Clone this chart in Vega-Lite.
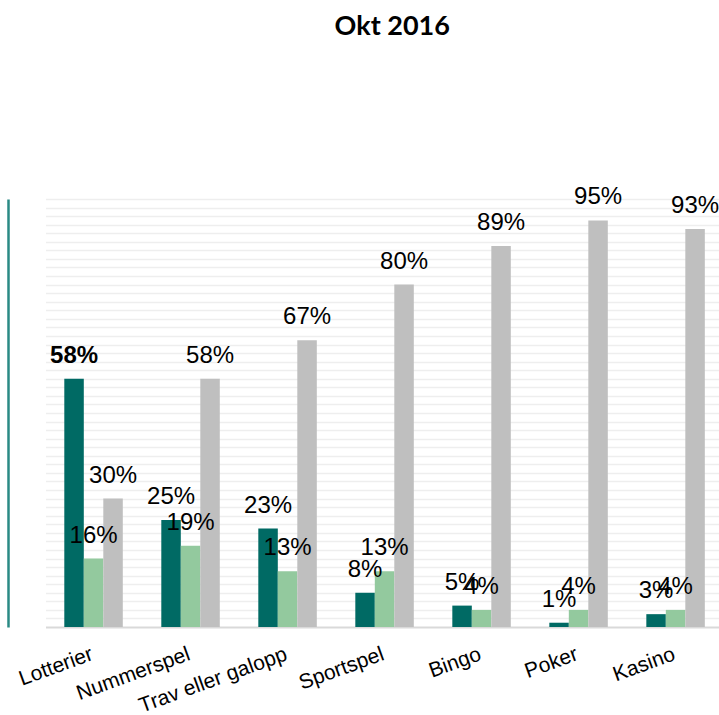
{
  "$schema": "https://vega.github.io/schema/vega-lite/v6.json",
  "autosize": "none",
  "width": 673.5,
  "height": 428,
  "padding": {"left": 45.5, "top": 199, "right": 0, "bottom": 88},
  "background": "white",
  "title": {
    "text": "Okt 2016",
    "font": "Lato",
    "fontSize": 27,
    "fontWeight": "bold",
    "color": "#000000",
    "anchor": "middle",
    "offset": 144,
    "dx": 10
  },
  "config": {
    "view": {"stroke": null},
    "axis": {"labelFont": "Liberation Sans"}
  },
  "data": {
    "values": [
      {"cat": "Lotterier", "s": "a", "v": 0.58},
      {"cat": "Lotterier", "s": "b", "v": 0.16},
      {"cat": "Lotterier", "s": "c", "v": 0.30},
      {"cat": "Nummerspel", "s": "a", "v": 0.25},
      {"cat": "Nummerspel", "s": "b", "v": 0.19},
      {"cat": "Nummerspel", "s": "c", "v": 0.58},
      {"cat": "Trav eller galopp", "s": "a", "v": 0.23},
      {"cat": "Trav eller galopp", "s": "b", "v": 0.13},
      {"cat": "Trav eller galopp", "s": "c", "v": 0.67},
      {"cat": "Sportspel", "s": "a", "v": 0.08},
      {"cat": "Sportspel", "s": "b", "v": 0.13},
      {"cat": "Sportspel", "s": "c", "v": 0.80},
      {"cat": "Bingo", "s": "a", "v": 0.05},
      {"cat": "Bingo", "s": "b", "v": 0.04},
      {"cat": "Bingo", "s": "c", "v": 0.89},
      {"cat": "Poker", "s": "a", "v": 0.01},
      {"cat": "Poker", "s": "b", "v": 0.04},
      {"cat": "Poker", "s": "c", "v": 0.95},
      {"cat": "Kasino", "s": "a", "v": 0.03},
      {"cat": "Kasino", "s": "b", "v": 0.04},
      {"cat": "Kasino", "s": "c", "v": 0.93}
    ]
  },
  "encoding": {
    "x": {
      "field": "cat",
      "type": "nominal",
      "sort": null,
      "scale": {"paddingInner": 0.397, "paddingOuter": 0.17, "align": 0.57},
      "axis": {
        "title": null,
        "labelAngle": -20,
        "labelAlign": "right",
        "labelBaseline": "top",
        "labelFontSize": 21,
        "labelColor": "#000000",
        "labelPadding": 16,
        "labelOffset": -5,
        "ticks": false,
        "domainColor": "#d9d9d9",
        "domainWidth": 2
      }
    },
    "xOffset": {"field": "s", "type": "nominal", "sort": ["a", "b", "c"], "scale": {"paddingInner": 0}},
    "y": {
      "field": "v",
      "type": "quantitative",
      "scale": {"domain": [0, 1], "nice": false},
      "axis": {
        "title": null,
        "labels": false,
        "ticks": false,
        "domain": true,
        "domainColor": "#2a8a84",
        "domainWidth": 2.5,
        "offset": 37.5,
        "grid": true,
        "gridColor": "#eeeeee",
        "gridWidth": 1.5,
        "values": [0.02,0.04,0.06,0.08,0.1,0.12,0.14,0.16,0.18,0.2,0.22,0.24,0.26,0.28,0.3,0.32,0.34,0.36,0.38,0.4,0.42,0.44,0.46,0.48,0.5,0.52,0.54,0.56,0.58,0.6,0.62,0.64,0.66,0.68,0.7,0.72,0.74,0.76,0.78,0.8,0.82,0.84,0.86,0.88,0.9,0.92,0.94,0.96,0.98,1]
      }
    },
    "text": {"field": "v", "type": "quantitative", "format": ".0%"}
  },
  "layer": [
    {
      "mark": {"type": "bar"},
      "encoding": {
        "color": {
          "field": "s",
          "type": "nominal",
          "scale": {"domain": ["a", "b", "c"], "range": ["#006a64", "#93c99e", "#bfbfbf"]},
          "legend": null
        }
      }
    },
    {
      "transform": [{"filter": "!(datum.cat === 'Lotterier' && datum.s === 'a')"}],
      "mark": {"type": "text", "font": "Liberation Sans", "fontSize": 24, "fontWeight": "normal", "baseline": "alphabetic", "align": "center", "dy": -16, "color": "#000000"}
    },
    {
      "transform": [{"filter": "datum.cat === 'Lotterier' && datum.s === 'a'"}],
      "mark": {"type": "text", "font": "Liberation Sans", "fontSize": 24, "fontWeight": "bold", "baseline": "alphabetic", "align": "center", "dy": -16, "color": "#000000"}
    }
  ]
}
